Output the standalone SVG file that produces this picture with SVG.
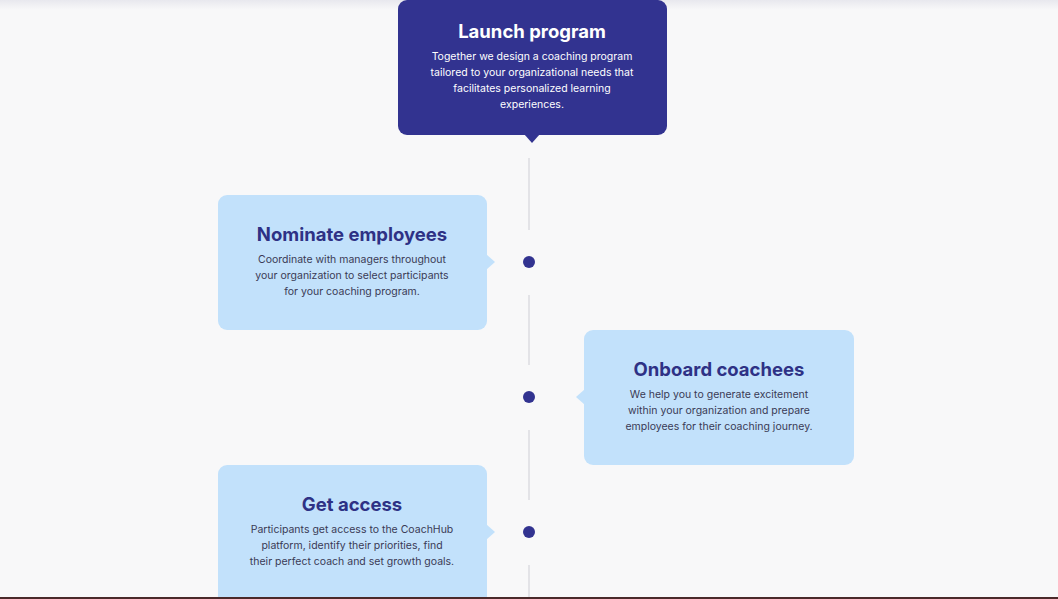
<svg xmlns="http://www.w3.org/2000/svg" width="1058" height="599" viewBox="0 0 1058 599">
<defs>
<linearGradient id="top" x1="0" y1="0" x2="0" y2="1"><stop offset="0" stop-color="#e8e8ee"/><stop offset="1" stop-color="#f8f8f9"/></linearGradient>
</defs>
<style>
.t{font-family:Inter,"Open Sans",sans-serif;font-weight:700;font-size:18.5px;text-anchor:middle}
.b{font-family:Inter,"Open Sans",sans-serif;font-size:10.5px;text-anchor:middle}
.lt{fill:#c2e1fb}
.dk{fill:#323390}
.line{stroke:#dcdce0;stroke-width:1.5}
</style>
<rect width="1058" height="599" fill="#f8f8f9"/>
<rect width="1058" height="10" fill="url(#top)"/>
<rect y="597" width="1058" height="2" fill="#4a2a2a"/>
<g id="connectors">
<line class="line" x1="529" y1="158" x2="529" y2="230"/>
<line class="line" x1="529" y1="295" x2="529" y2="365"/>
<line class="line" x1="529" y1="430" x2="529" y2="500"/>
<line class="line" x1="529" y1="565" x2="529" y2="597"/>
<circle class="dk" cx="529" cy="262" r="6"/>
<circle class="dk" cx="529" cy="397" r="6"/>
<circle class="dk" cx="529" cy="532" r="6"/>
</g>
<g id="launch">
<rect class="dk" x="398" y="0" width="269" height="135" rx="9"/>
<path class="dk" d="M524 134 L532 143 L540 134 Z"/>
<text class="t" x="532" y="38" fill="#fff">Launch program</text>
<text class="b" x="532" y="60" fill="#fff">Together we design a coaching program</text>
<text class="b" x="532" y="76" fill="#fff">tailored to your organizational needs that</text>
<text class="b" x="532" y="92" fill="#fff">facilitates personalized learning</text>
<text class="b" x="532" y="108" fill="#fff">experiences.</text>
</g>
<g id="nominate">
<rect class="lt" x="218" y="195" width="269" height="135" rx="9"/>
<path class="lt" d="M486 254 L495 262 L486 270 Z"/>
<text class="t" x="352" y="241" fill="#2e3185">Nominate employees</text>
<text class="b" x="352" y="263" fill="#3a3a55">Coordinate with managers throughout</text>
<text class="b" x="352" y="279" fill="#3a3a55">your organization to select participants</text>
<text class="b" x="352" y="295" fill="#3a3a55">for your coaching program.</text>
</g>
<g id="onboard">
<rect class="lt" x="584" y="330" width="270" height="135" rx="9"/>
<path class="lt" d="M585 389 L576 397 L585 405 Z"/>
<text class="t" x="719" y="376" fill="#2e3185">Onboard coachees</text>
<text class="b" x="719" y="398" fill="#3a3a55">We help you to generate excitement</text>
<text class="b" x="719" y="414" fill="#3a3a55">within your organization and prepare</text>
<text class="b" x="719" y="430" fill="#3a3a55">employees for their coaching journey.</text>
</g>
<g id="access">
<rect class="lt" x="218" y="465" width="269" height="140" rx="9"/>
<path class="lt" d="M486 524 L495 532 L486 540 Z"/>
<text class="t" x="352" y="511" fill="#2e3185">Get access</text>
<text class="b" x="352" y="533" fill="#3a3a55">Participants get access to the CoachHub</text>
<text class="b" x="352" y="549" fill="#3a3a55">platform, identify their priorities, find</text>
<text class="b" x="352" y="565" fill="#3a3a55">their perfect coach and set growth goals.</text>
</g>
<rect y="597" width="1058" height="2" fill="#4a2a2a"/>
</svg>
